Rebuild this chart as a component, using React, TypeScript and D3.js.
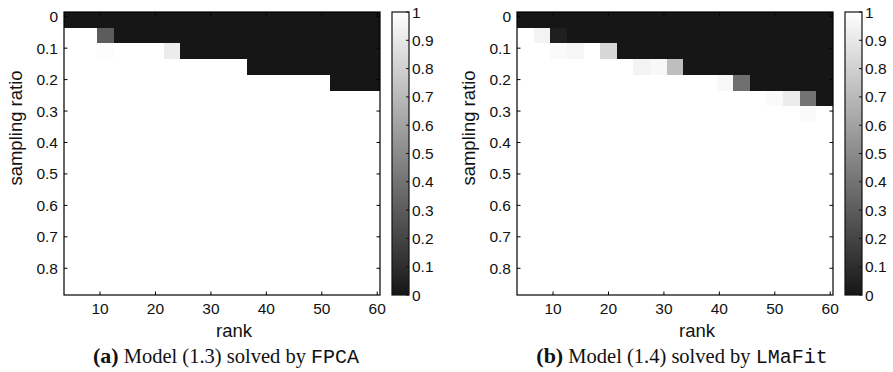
import React from "react";
import * as d3 from "d3";

// ---- data ----
const ranks = [5, 8, 11, 14, 17, 20, 23, 26, 29, 32, 35, 38, 41, 44, 47, 50, 53, 56, 59];
const ratios = [0.01, 0.06, 0.11, 0.16, 0.21, 0.26, 0.31, 0.36, 0.41, 0.46, 0.51, 0.56, 0.61, 0.66, 0.71, 0.76, 0.81, 0.86];

// success rate: rows = sampling ratio, cols = rank
const fpcaValues: number[][] = [
  [0, 0, 0, 0, 0, 0, 0, 0, 0, 0, 0, 0, 0, 0, 0, 0, 0, 0, 0],
  [1, 1, 0.3, 0, 0, 0, 0, 0, 0, 0, 0, 0, 0, 0, 0, 0, 0, 0, 0],
  [1, 1, 0.99, 1, 1, 1, 0.92, 0, 0, 0, 0, 0, 0, 0, 0, 0, 0, 0, 0],
  [1, 1, 1, 1, 1, 1, 1, 1, 1, 1, 1, 0, 0, 0, 0, 0, 0, 0, 0],
  [1, 1, 1, 1, 1, 1, 1, 1, 1, 1, 1, 1, 1, 1, 1, 1, 0, 0, 0],
  [1, 1, 1, 1, 1, 1, 1, 1, 1, 1, 1, 1, 1, 1, 1, 1, 1, 1, 1],
  [1, 1, 1, 1, 1, 1, 1, 1, 1, 1, 1, 1, 1, 1, 1, 1, 1, 1, 1],
  [1, 1, 1, 1, 1, 1, 1, 1, 1, 1, 1, 1, 1, 1, 1, 1, 1, 1, 1],
  [1, 1, 1, 1, 1, 1, 1, 1, 1, 1, 1, 1, 1, 1, 1, 1, 1, 1, 1],
  [1, 1, 1, 1, 1, 1, 1, 1, 1, 1, 1, 1, 1, 1, 1, 1, 1, 1, 1],
  [1, 1, 1, 1, 1, 1, 1, 1, 1, 1, 1, 1, 1, 1, 1, 1, 1, 1, 1],
  [1, 1, 1, 1, 1, 1, 1, 1, 1, 1, 1, 1, 1, 1, 1, 1, 1, 1, 1],
  [1, 1, 1, 1, 1, 1, 1, 1, 1, 1, 1, 1, 1, 1, 1, 1, 1, 1, 1],
  [1, 1, 1, 1, 1, 1, 1, 1, 1, 1, 1, 1, 1, 1, 1, 1, 1, 1, 1],
  [1, 1, 1, 1, 1, 1, 1, 1, 1, 1, 1, 1, 1, 1, 1, 1, 1, 1, 1],
  [1, 1, 1, 1, 1, 1, 1, 1, 1, 1, 1, 1, 1, 1, 1, 1, 1, 1, 1],
  [1, 1, 1, 1, 1, 1, 1, 1, 1, 1, 1, 1, 1, 1, 1, 1, 1, 1, 1],
  [1, 1, 1, 1, 1, 1, 1, 1, 1, 1, 1, 1, 1, 1, 1, 1, 1, 1, 1],
];

const lmafitValues: number[][] = [
  [0, 0, 0, 0, 0, 0, 0, 0, 0, 0, 0, 0, 0, 0, 0, 0, 0, 0, 0],
  [1, 0.95, 0.04, 0, 0, 0, 0, 0, 0, 0, 0, 0, 0, 0, 0, 0, 0, 0, 0],
  [1, 1, 0.98, 0.96, 1, 0.83, 0, 0, 0, 0, 0, 0, 0, 0, 0, 0, 0, 0, 0],
  [1, 1, 1, 1, 1, 1, 1, 0.95, 0.97, 0.72, 0, 0, 0, 0, 0, 0, 0, 0, 0],
  [1, 1, 1, 1, 1, 1, 1, 1, 1, 1, 1, 1, 0.97, 0.38, 0, 0, 0, 0, 0],
  [1, 1, 1, 1, 1, 1, 1, 1, 1, 1, 1, 1, 1, 1, 1, 0.98, 0.92, 0.4, 0],
  [1, 1, 1, 1, 1, 1, 1, 1, 1, 1, 1, 1, 1, 1, 1, 1, 1, 0.98, 1],
  [1, 1, 1, 1, 1, 1, 1, 1, 1, 1, 1, 1, 1, 1, 1, 1, 1, 1, 1],
  [1, 1, 1, 1, 1, 1, 1, 1, 1, 1, 1, 1, 1, 1, 1, 1, 1, 1, 1],
  [1, 1, 1, 1, 1, 1, 1, 1, 1, 1, 1, 1, 1, 1, 1, 1, 1, 1, 1],
  [1, 1, 1, 1, 1, 1, 1, 1, 1, 1, 1, 1, 1, 1, 1, 1, 1, 1, 1],
  [1, 1, 1, 1, 1, 1, 1, 1, 1, 1, 1, 1, 1, 1, 1, 1, 1, 1, 1],
  [1, 1, 1, 1, 1, 1, 1, 1, 1, 1, 1, 1, 1, 1, 1, 1, 1, 1, 1],
  [1, 1, 1, 1, 1, 1, 1, 1, 1, 1, 1, 1, 1, 1, 1, 1, 1, 1, 1],
  [1, 1, 1, 1, 1, 1, 1, 1, 1, 1, 1, 1, 1, 1, 1, 1, 1, 1, 1],
  [1, 1, 1, 1, 1, 1, 1, 1, 1, 1, 1, 1, 1, 1, 1, 1, 1, 1, 1],
  [1, 1, 1, 1, 1, 1, 1, 1, 1, 1, 1, 1, 1, 1, 1, 1, 1, 1, 1],
  [1, 1, 1, 1, 1, 1, 1, 1, 1, 1, 1, 1, 1, 1, 1, 1, 1, 1, 1],
];

const xTicks = [10, 20, 30, 40, 50, 60];
const yTicks = [0, 0.1, 0.2, 0.3, 0.4, 0.5, 0.6, 0.7, 0.8];
const cbTicks = [0, 0.1, 0.2, 0.3, 0.4, 0.5, 0.6, 0.7, 0.8, 0.9, 1];

const panels = [
  { letter: "(a)", text: "Model (1.3) solved by ", code: "FPCA", values: fpcaValues },
  { letter: "(b)", text: "Model (1.4) solved by ", code: "LMaFit", values: lmafitValues },
];

// ---- layout ----
const W = 893;
const H = 372;
const TOP = 12;
const BOTTOM = 295;
const PLOT_W = 316;
const panelLayout = [
  { left: 64, cbLeft: 392, yLabelX: 22, rankX: 234, captionX: 226 },
  { left: 517, cbLeft: 845, yLabelX: 475, rankX: 697, captionX: 682 },
];
const CB_W = 17;

const SANS = "'Liberation Sans', Arial, Helvetica, sans-serif";
const SERIF = "'Liberation Serif', 'Times New Roman', serif";
const MONO = "'Liberation Mono', 'Courier New', monospace";
const TICK_FS = 15.5;
const LABEL_FS = 18.5;

const color = d3.scaleLinear<string>().domain([0, 1]).range(["#161616", "#ffffff"]).interpolate(d3.interpolateRgb);

function fmt(v: number) {
  return d3.format("")(+v.toFixed(1));
}

function Panel({ idx }: { idx: number }) {
  const p = panels[idx];
  const L = panelLayout[idx];
  const rStep = ranks[1] - ranks[0];
  const yStep = ratios[1] - ratios[0];
  const x = d3
    .scaleLinear()
    .domain([ranks[0] - rStep / 2, ranks[ranks.length - 1] + rStep / 2])
    .range([L.left, L.left + PLOT_W]);
  const y = d3
    .scaleLinear()
    .domain([ratios[0] - yStep / 2, ratios[ratios.length - 1] + yStep / 2])
    .range([TOP, BOTTOM]);
  const cb = d3.scaleLinear().domain([0, 1]).range([BOTTOM, TOP]);
  const gid = `cbgrad${idx}`;
  const tl = 3.5;
  const right = L.left + PLOT_W;
  return (
    <g>
      <defs>
        <linearGradient id={gid} x1="0" y1="1" x2="0" y2="0">
          <stop offset="0%" stopColor={color(0)} />
          <stop offset="100%" stopColor={color(1)} />
        </linearGradient>
      </defs>
      {/* cells */}
      <g shapeRendering="crispEdges">
        {p.values.map((row, i) =>
          row.map((v, j) => (
            <rect
              key={`${i}-${j}`}
              x={x(ranks[j] - rStep / 2)}
              y={y(ratios[i] - yStep / 2)}
              width={x(ranks[j] + rStep / 2) - x(ranks[j] - rStep / 2)}
              height={y(ratios[i] + yStep / 2) - y(ratios[i] - yStep / 2)}
              fill={color(v)}
            />
          ))
        )}
      </g>
      {/* frame */}
      <rect x={L.left} y={TOP} width={PLOT_W} height={BOTTOM - TOP} fill="none" stroke="#000" strokeWidth={1.2} />
      {/* x ticks */}
      {xTicks.map((t) => (
        <g key={`x${t}`}>
          <line x1={x(t)} x2={x(t)} y1={BOTTOM} y2={BOTTOM - tl} stroke="#000" strokeWidth={1} />
          <line x1={x(t)} x2={x(t)} y1={TOP} y2={TOP + tl} stroke="#000" strokeWidth={1} />
          <text x={x(t)} y={314} textAnchor="middle" fontFamily={SANS} fontSize={TICK_FS} fill="#111">
            {t}
          </text>
        </g>
      ))}
      {/* y ticks */}
      {yTicks.map((t) => (
        <g key={`y${t}`}>
          <line x1={L.left} x2={L.left + tl} y1={y(t)} y2={y(t)} stroke="#000" strokeWidth={1} />
          <line x1={right} x2={right - tl} y1={y(t)} y2={y(t)} stroke="#000" strokeWidth={1} />
          <text x={L.left - 6} y={y(t) + 5.5} textAnchor="end" fontFamily={SANS} fontSize={TICK_FS} fill="#111">
            {fmt(t)}
          </text>
        </g>
      ))}
      {/* axis labels */}
      <text x={L.rankX} y={337} textAnchor="middle" fontFamily={SANS} fontSize={LABEL_FS} fill="#111">
        rank
      </text>
      <text
        transform={`translate(${L.yLabelX},128) rotate(-90)`}
        textAnchor="middle"
        fontFamily={SANS}
        fontSize={LABEL_FS}
        fill="#111"
      >
        sampling ratio
      </text>
      {/* colorbar */}
      <rect x={L.cbLeft} y={TOP} width={CB_W} height={BOTTOM - TOP} fill={`url(#${gid})`} stroke="#111" strokeWidth={1.2} />
      {cbTicks.map((t) => (
        <g key={`c${t}`}>
          <line x1={L.cbLeft + CB_W} x2={L.cbLeft + CB_W - 3} y1={cb(t)} y2={cb(t)} stroke="#111" strokeWidth={1} />
          <text x={L.cbLeft + CB_W + 3} y={cb(t) + 5.5} fontFamily={SANS} fontSize={TICK_FS} fill="#111">
            {fmt(t)}
          </text>
        </g>
      ))}
      {/* caption */}
      <text x={L.captionX} y={363} textAnchor="middle" fill="#111">
        <tspan fontFamily={SERIF} fontWeight="bold" fontSize={22}>
          {p.letter}
        </tspan>
        <tspan fontFamily={SERIF} fontSize={20.5}>
          {" " + p.text}
        </tspan>
        <tspan fontFamily={MONO} fontSize={20}>
          {p.code}
        </tspan>
      </text>
    </g>
  );
}

export default function App() {
  return (
    <svg width={W} height={H} viewBox={`0 0 ${W} ${H}`} style={{ display: "block", position: "absolute", left: 0, top: 0, background: "#fff" }}>
      <rect x={0} y={0} width={W} height={H} fill="#fff" />
      <Panel idx={0} />
      <Panel idx={1} />
    </svg>
  );
}
